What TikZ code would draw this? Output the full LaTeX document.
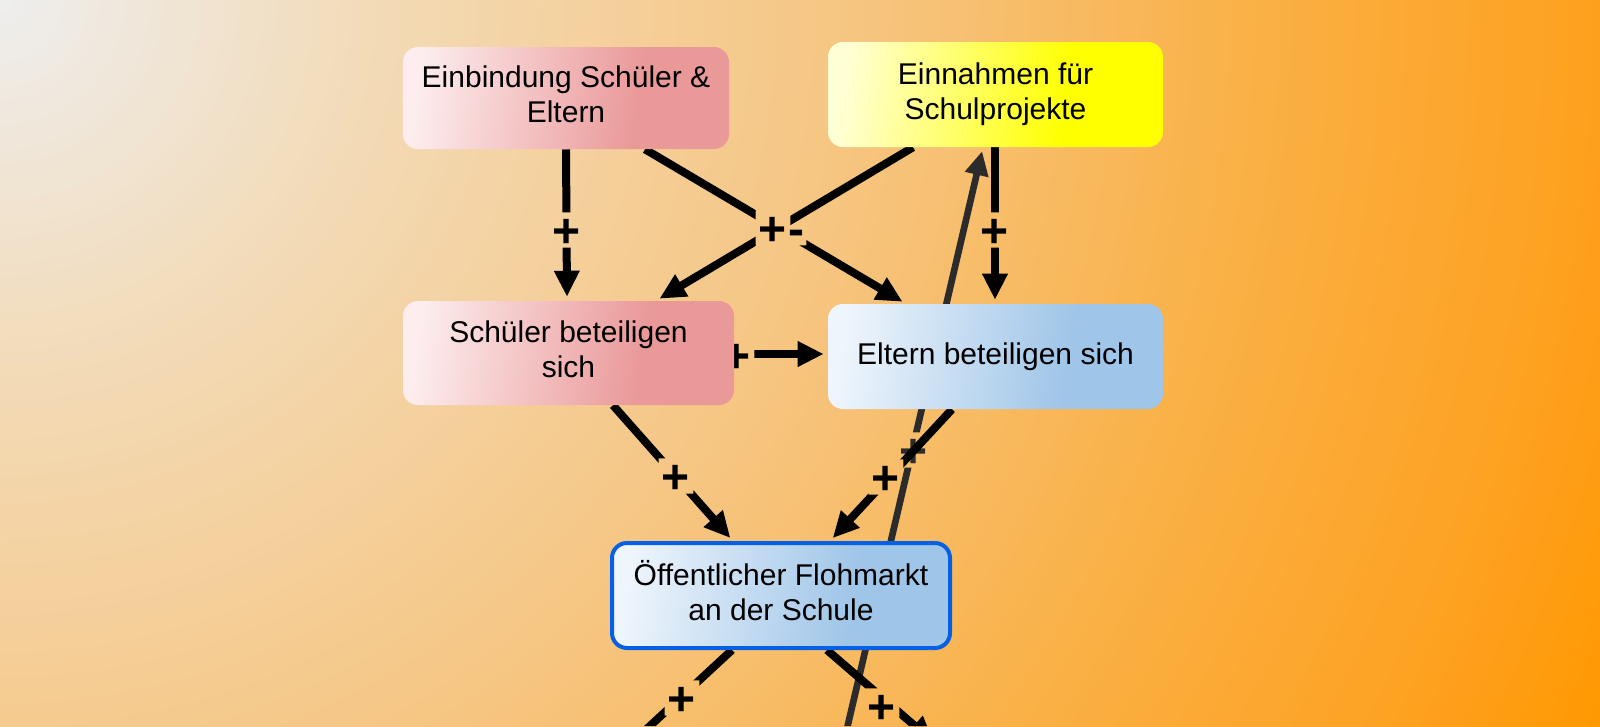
\documentclass[tikz,border=0pt]{standalone}
\usepackage{fontspec}
\setmainfont{Liberation Sans}
\usetikzlibrary{arrows.meta}
\definecolor{bgc0}{HTML}{EEEEEE}
\definecolor{bgc1}{HTML}{F3D9B3}
\definecolor{bgc2}{HTML}{F6C47E}
\definecolor{bgc3}{HTML}{FAB044}
\definecolor{bgc4}{HTML}{FEA01E}
\definecolor{bgc5}{HTML}{FF9900}
\definecolor{pk0}{HTML}{FDEDEE}
\definecolor{pk1}{HTML}{EA9999}
\definecolor{ye0}{HTML}{FFFFD6}
\definecolor{ye1}{HTML}{FFFF00}
\definecolor{bl0}{HTML}{EEF5FC}
\definecolor{bl1}{HTML}{9FC5E8}
\definecolor{flohblue}{HTML}{0560E6}
\definecolor{gline}{HTML}{2B2B2B}
\pgfdeclarehorizontalshading{pinksh}{100bp}{color(0bp)=(pk0); color(25bp)=(pk0); color(62bp)=(pk1); color(100bp)=(pk1)}
\pgfdeclarehorizontalshading{yellowsh}{100bp}{color(0bp)=(ye0); color(25bp)=(ye0); color(62bp)=(ye1); color(100bp)=(ye1)}
\pgfdeclarehorizontalshading{bluesh}{100bp}{color(0bp)=(bl0); color(25bp)=(bl0); color(62bp)=(bl1); color(100bp)=(bl1)}
\pgfdeclarelayer{bgl}
\pgfdeclarelayer{edl}
\pgfsetlayers{bgl,edl,main}
\newcommand\boxfont{\fontsize{22.5pt}{26pt}\selectfont}
\newcommand\lblfont{\fontsize{36pt}{36pt}\selectfont\bfseries}
\newcommand\dn{\rule[-5.5pt]{0pt}{0pt}}
\newcommand\dnf{\rule[-7.5pt]{0pt}{0pt}}
\newcommand\lp{\raisebox{-2.5pt}[\height][0pt]{+}}
\newcommand\lm{\raisebox{-3.75pt}[\height][\depth]{-}}
\newcommand\cutout[1]{\clip (bgA) rectangle (bgB) (#1.south west) rectangle (#1.north east);}
\begin{document}
\begin{tikzpicture}[x=0.75pt,y=-0.75pt,
  box/.style={rectangle, rounded corners=11.25pt, shade, align=center, font=\boxfont, inner sep=0pt, text=black},
  pinkbox/.style={box, shading=pinksh, shading angle=-8},
  yellowbox/.style={box, shading=yellowsh, shading angle=-8},
  bluebox/.style={box, shading=bluesh, shading angle=-8},
  lbl/.style={font=\lblfont, inner sep=0pt, minimum width=25.5pt, minimum height=26pt},
  lblm/.style={lbl, minimum width=15pt, minimum height=18pt},
  arr/.style={line width=6pt, draw=black, -{Triangle[length=19.5pt,width=18pt]}, shorten >=3pt},
  garr/.style={arr, draw=gline, line width=5pt, -{Triangle[length=18pt,width=17pt]}}]
\useasboundingbox (0,0) rectangle (1600,726);
\coordinate (bgA) at (0,0);
\coordinate (bgB) at (1600,726);
\coordinate (offL) at (570,800);
\coordinate (offR) at (937,745);
\coordinate (offG) at (842,750);
\begin{pgfonlayer}{bgl}
  \begin{scope}
    \clip (bgA) rectangle (bgB);
    \fill[bgc5] (bgA) rectangle (bgB);
    \foreach \i in {150,...,1}{
      \pgfmathsetmacro\f{(\i-0.5)/140}
      \ifdim\f pt<0.23pt
        \pgfmathsetmacro\p{\f/0.23*100}\def\ca{bgc1}\def\cb{bgc0}
      \else\ifdim\f pt<0.5pt
        \pgfmathsetmacro\p{(\f-0.23)/0.27*100}\def\ca{bgc2}\def\cb{bgc1}
      \else\ifdim\f pt<0.72pt
        \pgfmathsetmacro\p{(\f-0.5)/0.22*100}\def\ca{bgc3}\def\cb{bgc2}
      \else\ifdim\f pt<0.91pt
        \pgfmathsetmacro\p{(\f-0.72)/0.19*100}\def\ca{bgc4}\def\cb{bgc3}
      \else\ifdim\f pt<1pt
        \pgfmathsetmacro\p{(\f-0.91)/0.09*100}\def\ca{bgc5}\def\cb{bgc4}
      \else
        \def\p{100}\def\ca{bgc5}\def\cb{bgc4}
      \fi\fi\fi\fi\fi
      \fill[color=\ca!\p!\cb] (bgA) circle[radius=\i*12.55];
    }
  \end{scope}
\end{pgfonlayer}
% boxes
\node[pinkbox, minimum width=244.5pt, minimum height=76.5pt] (einb) at (566,98) {Einbindung Schüler \&\\Eltern\dn};
\node[yellowbox, minimum width=251.25pt, minimum height=78.75pt] (eina) at (995.5,94.5) {Einnahmen für\\Schulprojekte};
\node[pinkbox, minimum width=248.25pt, minimum height=78pt] (schu) at (568.5,353) {Schüler beteiligen\\sich\dn};
\node[bluebox, minimum width=251.25pt, minimum height=78.75pt] (elt) at (995.5,356.5) {Eltern beteiligen sich};
\node[bluebox, draw=flohblue, line width=3pt, minimum width=253.5pt, minimum height=78.75pt] (floh) at (781,595.5) {Öffentlicher Flohmarkt\\an der Schule\dnf};
% edges
\begin{pgfonlayer}{edl}
  \node[lbl, text=gline] (lg) at (914,450) {\lp};
  \node[lbl] (l1) at (567,230) {\lp};
  \node[lblm] (l2) at (796,233) {\lm};
  \node[lbl] (l3) at (773,228) {\lp};
  \node[lbl] (l4) at (995,230) {\lp};
  \node[lbl] (l5) at (737,355) {\lp};
  \node[lbl] (l6) at (676,476) {\lp};
  \node[lbl] (l7) at (886,477) {\lp};
  \node[lbl] (l8) at (682,698) {\lp};
  \node[lbl] (l9) at (882,706) {\lp};
  \begin{scope}[even odd rule]\cutout{lg}\draw[garr] (offG) -- (eina.south -| 983,0);\end{scope}
  \begin{scope}[even odd rule]\cutout{l1}\draw[arr] (einb.south -| 566,0) -- (schu.north -| 567,0);\end{scope}
  \begin{scope}[even odd rule]\cutout{l2}\cutout{l3}\draw[arr] (einb.south -| 645,0) -- (elt.north -| 906,0);\end{scope}
  \begin{scope}[even odd rule]\cutout{l3}\draw[arr] (eina.south -| 913,0) -- (schu.north -| 656,0);\end{scope}
  \begin{scope}[even odd rule]\cutout{l4}\draw[arr] (eina.south -| 995,0) -- (elt.north -| 995,0);\end{scope}
  \begin{scope}[even odd rule]\cutout{l5}\draw[arr] (schu.east |- 0,354) -- (elt.west |- 0,354);\end{scope}
  \begin{scope}[even odd rule]\cutout{l6}\draw[arr] (schu.south -| 613,0) -- (floh.north -| 733,0);\end{scope}
  \begin{scope}[even odd rule]\cutout{l7}\draw[arr] (elt.south -| 952,0) -- (floh.north -| 830,0);\end{scope}
  \begin{scope}[even odd rule]\cutout{l8}\draw[arr] (floh.south -| 732,0) -- (offL);\end{scope}
  \begin{scope}[even odd rule]\cutout{l9}\draw[arr] (floh.south -| 827,0) -- (offR);\end{scope}
\end{pgfonlayer}
\end{tikzpicture}
\end{document}
